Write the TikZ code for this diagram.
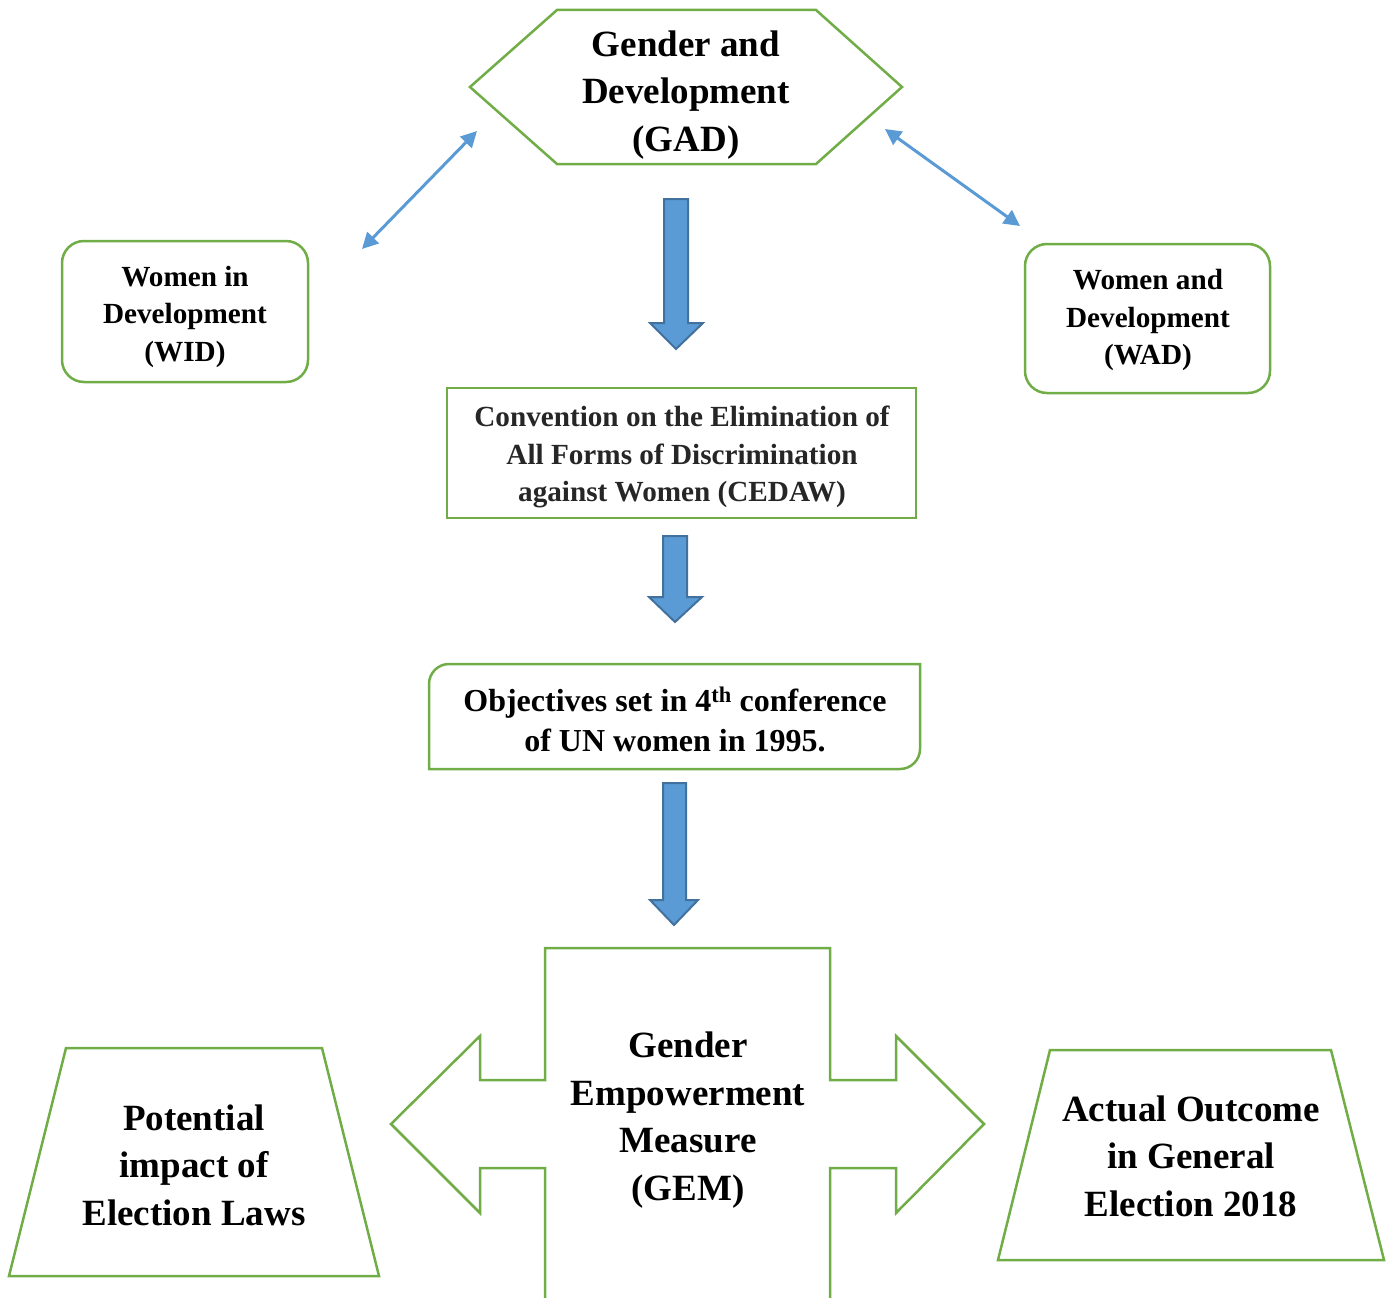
\documentclass[tikz,border=0pt]{standalone}
\usepackage{fontspec}
\setmainfont{Liberation Serif}
\usetikzlibrary{arrows.meta}
\definecolor{gGreen}{HTML}{70AD47}
\definecolor{gBlue}{HTML}{5B9BD5}
\definecolor{gBlueDark}{HTML}{41719C}
\definecolor{gGray}{HTML}{262626}
\tikzset{
  outl/.style={draw=gGreen, line width=2.5pt, line join=miter},
  bigtxt/.style={align=center, inner sep=0pt, font=\fontsize{37}{47.5}\selectfont\bfseries},
  midtxt/.style={align=center, inner sep=0pt, font=\fontsize{29.2}{37.5}\selectfont\bfseries},
  objtxt/.style={align=center, inner sep=0pt, font=\fontsize{32}{40}\selectfont\bfseries},
  blockarr/.style={fill=gBlue, draw=gBlueDark, line width=2pt, line join=miter},
  dbl/.style={draw=gBlue, line width=3pt, {Triangle[length=16pt,width=16pt]}-{Triangle[length=16pt,width=16pt]}},
  rbox/.style={outl, rounded corners=22pt, inner sep=0pt}
}
\begin{document}
\begin{tikzpicture}[x=1pt,y=-1pt]
\useasboundingbox (0,0) rectangle (1392,1298);
\clip (0,0) rectangle (1392,1298);

% GAD hexagon
\draw[outl] (470,87) -- (557,10) -- (816,10) -- (902,87) -- (816,164) -- (557,164) -- cycle;
\node[bigtxt] (gad) at (686,95) {Gender and\\Development\\(GAD)};

% WID and WAD
\node[rbox, minimum width=246pt, minimum height=141pt] (widbox) at (185,311.5) {};
\node[midtxt] (wid) at (185,316.5) {Women in\\Development\\(WID)};
\node[rbox, minimum width=245pt, minimum height=149pt] (wadbox) at (1147.5,318.5) {};
\node[midtxt] (wad) at (1148,320) {Women and\\Development\\(WAD)};

% double arrows
\coordinate (l1) at (362,249);
\coordinate (l2) at (477,131);
\coordinate (r1) at (885,129);
\coordinate (r2) at (1020,226);
\draw[dbl] (l1) -- (l2);
\draw[dbl] (r1) -- (r2);

% block arrow 1
\draw[blockarr] (664,199) -- (688,199) -- (688,323) -- (703,323) -- (676,349) -- (650,323) -- (664,323) -- cycle;

% CEDAW
\node[outl, inner sep=0pt, minimum width=469pt, minimum height=130pt] (cedawbox) at (681.5,453) {};
\node[midtxt, text=gGray] (cedaw) at (682,457) {Convention on the Elimination of\\All Forms of Discrimination\\against Women (CEDAW)};

% block arrow 2
\draw[blockarr] (663,536) -- (687,536) -- (687,597) -- (702,597) -- (675,622) -- (649,597) -- (663,597) -- cycle;

% Objectives
\draw[outl] (429,769) -- (429,684) .. controls (429,673) and (438,664) .. (449,664) -- (920,664) -- (920,749) .. controls (920,760) and (911,769) .. (900,769) -- cycle;
\node[objtxt] (obj) at (675,719.5) {Objectives set in 4\textsuperscript{th} conference\\of UN women in 1995.};

% block arrow 3
\draw[blockarr] (663,783) -- (686,783) -- (686,900) -- (698,900) -- (674,925) -- (650,900) -- (663,900) -- cycle;

% GEM cross
\draw[outl] (545,1320) -- (545,1168) -- (480,1168) -- (480,1213) -- (391,1124) -- (480,1036) -- (480,1080) -- (545,1080) -- (545,948) -- (830,948) -- (830,1080) -- (896,1080) -- (896,1036) -- (984,1124) -- (896,1213) -- (896,1168) -- (830,1168) -- (830,1320);
\node[bigtxt] (gem) at (688,1120) {Gender\\Empowerment\\Measure\\(GEM)};

% trapezoids
\draw[outl] (66,1048) -- (322,1048) -- (379,1276) -- (9,1276) -- cycle;
\node[bigtxt] (pot) at (194,1165) {Potential\\impact of\\Election Laws};
\draw[outl] (1050,1050) -- (1331,1050) -- (1384,1260) -- (998,1260) -- cycle;
\node[bigtxt] (act) at (1191,1156) {Actual Outcome\\in General\\Election 2018};
\end{tikzpicture}
\end{document}
